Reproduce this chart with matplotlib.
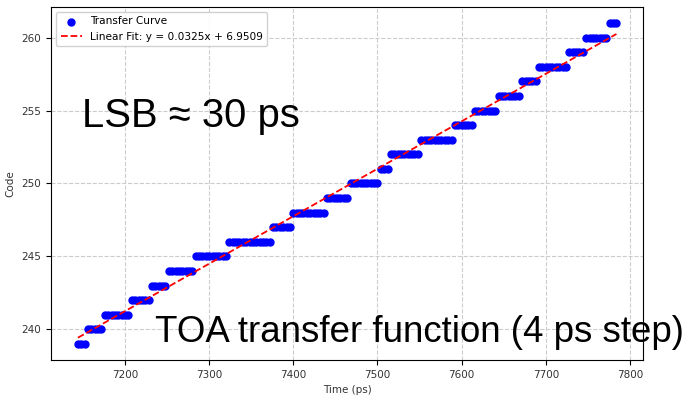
import matplotlib
matplotlib.use("Agg")
import matplotlib.pyplot as plt
import numpy as np

# Code plateaus: (code, first time, last time) in ps
codes = [239, 240, 241, 242, 243, 244, 245, 246, 247, 248, 249,
         250, 251, 252, 253, 254, 255, 256, 257, 258, 259, 260, 261]
t_first = [7144, 7156, 7176, 7208, 7232, 7252, 7284, 7324, 7376, 7400, 7440,
           7468, 7504, 7516, 7552, 7592, 7616, 7644, 7672, 7692, 7728, 7748, 7776]
t_last = [7152, 7172, 7204, 7228, 7248, 7280, 7320, 7372, 7396, 7436, 7464,
          7500, 7512, 7548, 7588, 7612, 7640, 7668, 7688, 7724, 7744, 7772, 7784]
step_ps = 4

fit_label = "Linear Fit: y = 0.0325x + 6.9509"
note_lsb = "LSB \u2248 30 ps"
note_toa = "TOA transfer function (4 ps step)"

# expand plateaus into the 4 ps sweep points
time_ps = []
code_out = []
for c, a, b in zip(codes, t_first, t_last):
    ts = np.arange(a, b + 1, step_ps)
    time_ps.extend(ts)
    code_out.extend([c] * len(ts))
time_ps = np.array(time_ps, dtype=float)
code_out = np.array(code_out, dtype=float)

slope, icpt = np.polyfit(time_ps, code_out, 1)

fig = plt.figure(figsize=(6.92, 3.97), dpi=100)
ax = fig.add_axes([0.0737, 0.0932, 0.856, 0.8892])

ax.scatter(time_ps, code_out, s=25, color="blue", label="Transfer Curve", zorder=2)
ax.plot(time_ps, slope * time_ps + icpt, "r--", lw=1.3, label=fit_label, zorder=3)

ax.grid(True, linestyle="--", color="#cccccc", linewidth=0.8)
ax.set_axisbelow(True)
ax.set_xticks([7200, 7300, 7400, 7500, 7600, 7700, 7800])
ax.set_yticks([240, 245, 250, 255, 260])
ax.tick_params(labelsize=7.5, labelcolor="#333333", length=3.5)
ax.set_xlabel("Time (ps)", fontsize=7.5, color="#333333", labelpad=4)
ax.set_ylabel("Code", fontsize=7.5, color="#333333", labelpad=4)

ax.legend(loc="upper left", fontsize=7.6, markerscale=1.0, borderaxespad=0.5,
          handlelength=2.0, framealpha=0.9, edgecolor="#cccccc")

# slide annotations overlaid on the plot
fig.text(82 / 692, 1 - 127 / 397, note_lsb, fontsize=28.8, family="Liberation Sans",
         color="black", va="baseline", ha="left")
fig.text(155 / 692, 1 - 342 / 397, note_toa, fontsize=26.4, family="Liberation Sans",
         color="black", va="baseline", ha="left")

fig.savefig("out.png", dpi=100)
